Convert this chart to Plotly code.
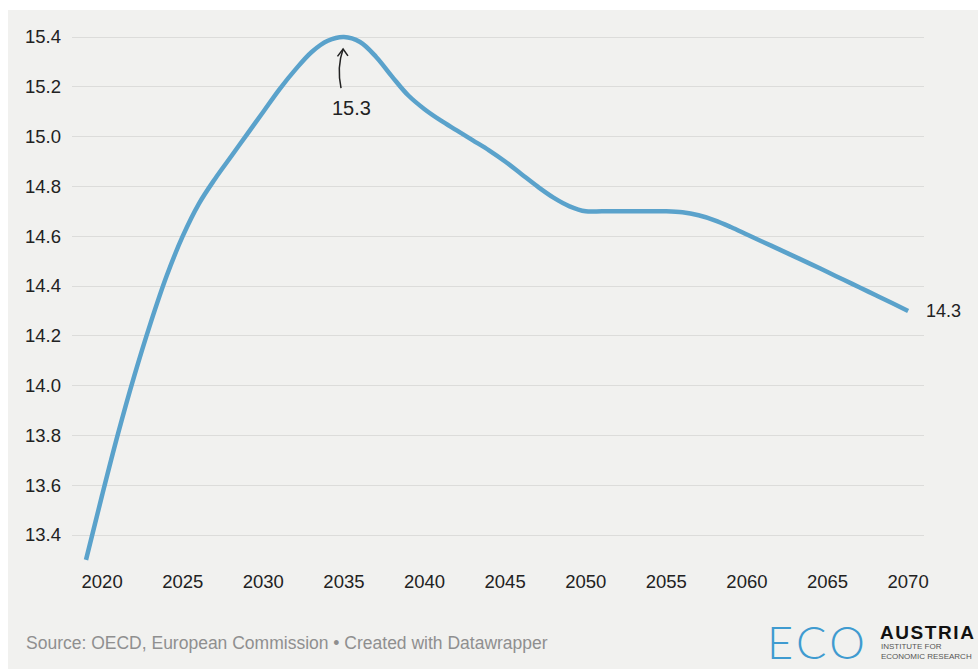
import plotly.graph_objects as go

# ---- data ----
years = list(range(2019, 2071))
values = [
    13.30, 13.56, 13.81, 14.04, 14.25, 14.44, 14.60, 14.73, 14.83, 14.92,    # 2019-2028
    15.01, 15.10, 15.19, 15.27, 15.34, 15.385, 15.40, 15.38, 15.32, 15.24,   # 2029-2038
    15.165, 15.11, 15.065, 15.025, 14.985, 14.945, 14.90, 14.85, 14.80, 14.755,  # 2039-2048
    14.72, 14.70, 14.70, 14.70, 14.70, 14.70, 14.70, 14.696, 14.684, 14.664,  # 2049-2058
    14.637, 14.607, 14.577, 14.547, 14.517, 14.487, 14.456, 14.425, 14.394, 14.363,  # 2059-2068
    14.332, 14.30,                                                            # 2069-2070
]
x_ticks = list(range(2020, 2071, 5))
y_ticks = [13.4, 13.6, 13.8, 14.0, 14.2, 14.4, 14.6, 14.8, 15.0, 15.2, 15.4]
y_tick_text = [f"{v:.1f}" for v in y_ticks]
peak_label = "15.3"
end_label = "14.3"
source_text = "Source: OECD, European Commission • Created with Datawrapper"

# ---- layout geometry ----
W, H = 978, 669
L, R, T, B = 72, 54, 30, 103
PW, PH = W - L - R, H - T - B
FONT = "Liberation Sans, Arial, Helvetica, sans-serif"
BG = "#f1f1ef"
LINE = "#5aa2cb"
TXT = "#222222"


def px(xp):
    return (xp - L) / PW


def py(yp):
    return (H - B - yp) / PH


fig = go.Figure()
fig.add_trace(go.Scatter(
    x=years, y=values, mode="lines",
    line=dict(color=LINE, width=4.5, shape="spline", smoothing=1.0),
    hoverinfo="skip", showlegend=False,
))

shapes = [
    # grey card background
    dict(type="rect", xref="paper", yref="paper",
         x0=px(8), x1=px(W + 5), y0=py(H + 5), y1=py(10),
         fillcolor=BG, line=dict(width=0), layer="below"),
    # curved arrow of the peak annotation
    dict(type="path", xref="x", yref="y",
         path="M 2034.82,15.195 Q 2034.55,15.28 2034.95,15.352",
         line=dict(color=TXT, width=1.5)),
    dict(type="path", xref="x", yref="y",
         path="M 2034.60,15.322 L 2034.95,15.352 L 2035.25,15.324",
         line=dict(color=TXT, width=1.5)),
]

annotations = [
    dict(x=2035.45, y=15.115, xref="x", yref="y", text=peak_label, showarrow=False,
         font=dict(family=FONT, size=20, color=TXT), xanchor="center", yanchor="middle"),
    dict(x=years[-1], y=values[-1], xref="x", yref="y", text=end_label, showarrow=False,
         font=dict(family=FONT, size=18, color=TXT), xanchor="left", yanchor="middle",
         xshift=16),
    dict(x=px(24), y=py(643), xref="paper", yref="paper", text=source_text,
         showarrow=False, font=dict(family=FONT, size=17.5, color="#8f8f8f"),
         xanchor="left", yanchor="middle"),
    # logo
    dict(x=px(765), y=py(642), xref="paper", yref="paper", text="E\u200aC\u200aO",
         showarrow=False,
         font=dict(family="Lato, Liberation Sans, sans-serif", size=45, color="#3f9bd0",
                   weight=300),
         xanchor="left", yanchor="middle"),
    dict(x=px(878), y=py(632), xref="paper", yref="paper",
         text="A\u200aU\u200aS\u200aT\u200aR\u200aI\u200aA", showarrow=False,
         font=dict(family=FONT, size=19, color="#111111", weight="bold"),
         xanchor="left", yanchor="middle"),
    dict(x=px(879), y=py(651), xref="paper", yref="paper",
         text="INSTITUTE FOR<br>ECONOMIC RESEARCH", showarrow=False, align="left",
         font=dict(family=FONT, size=8, color="#555555"),
         xanchor="left", yanchor="middle"),
]

y_scale = 249.0  # px per unit, from the reference grid
x_scale = 16.12  # px per year
x0 = 2019 - (86 - L) / x_scale
x1 = x0 + PW / x_scale
ytop = 15.4 + (37 - T) / y_scale
ybot = ytop - PH / y_scale

fig.update_layout(
    width=W, height=H,
    margin=dict(l=L, r=R, t=T, b=B, pad=0),
    paper_bgcolor="white",
    plot_bgcolor="rgba(0,0,0,0)",
    shapes=shapes,
    annotations=annotations,
    font=dict(family=FONT, color=TXT),
    xaxis=dict(range=[x0, x1], tickvals=x_ticks, ticktext=[str(v) for v in x_ticks],
               showgrid=False, zeroline=False, showline=False, ticks="",
               tickfont=dict(family=FONT, size=18.5, color=TXT), fixedrange=True,
               ticklabelstandoff=2),
    yaxis=dict(range=[ybot, ytop], tickvals=y_ticks, ticktext=y_tick_text,
               showgrid=True, gridcolor="#dcdcda", gridwidth=1.3, zeroline=False,
               showline=False, ticks="", tickfont=dict(family=FONT, size=18.5, color=TXT),
               fixedrange=True, ticklabelstandoff=10),
)

fig.write_html("out.html", config={"displayModeBar": False})
